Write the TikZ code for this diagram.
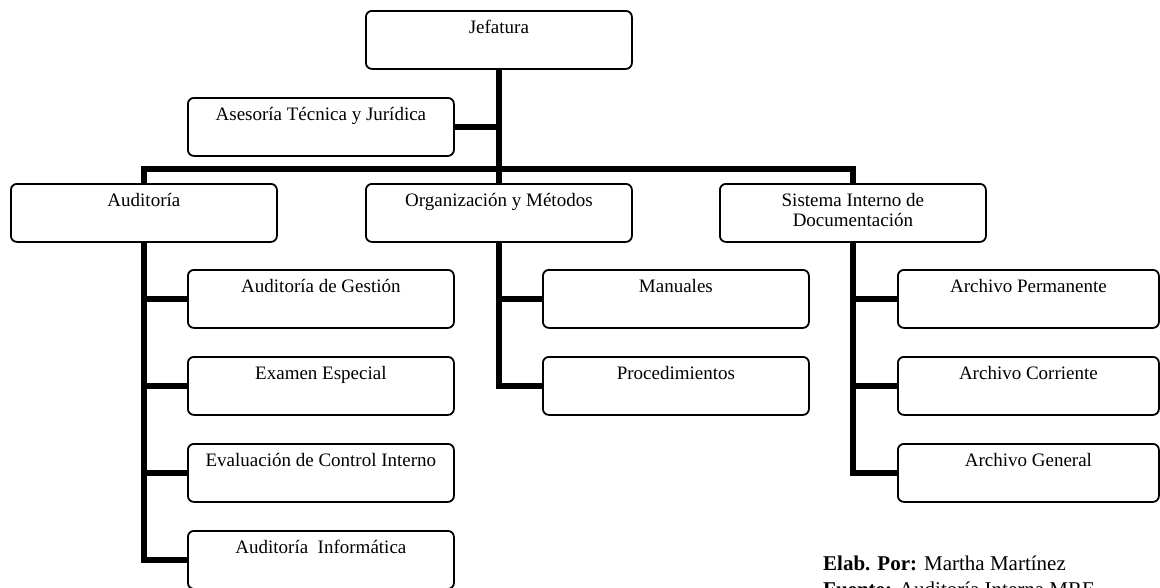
\documentclass[tikz,border=0pt]{standalone}
\usepackage{fontspec}
\setmainfont{Liberation Serif}
\newcommand{\cajatexto}[1]{\parbox[c][58pt][t]{258pt}{\centering\rule{0pt}{23pt}#1\par}}
\begin{document}
\begin{tikzpicture}[x=1pt,y=-1pt,
  orgbox/.style={draw=black, fill=white, line width=1.8pt, rounded corners=6pt,
    inner sep=0pt, minimum width=266pt, minimum height=58pt, anchor=north west,
    font=\fontsize{19}{20}\selectfont},
  archbox/.style={orgbox, minimum width=261pt},
  conn/.style={draw=black, line width=6.5pt},
  nota/.style={anchor=base west, inner sep=0pt, font=\fontsize{21}{26}\selectfont}]
\clip (0,0) rectangle (1160,587);
\fill[white] (0,0) rectangle (1160,587);

% boxes
\node[orgbox] (jef)  at (365,10)  {\cajatexto{Jefatura}};
\node[orgbox] (ase)  at (187,97)  {\cajatexto{Asesoría Técnica y Jurídica}};
\node[orgbox] (aud)  at (10,183)  {\cajatexto{Auditoría}};
\node[orgbox] (org)  at (365,183) {\cajatexto{Organización y Métodos}};
\node[orgbox] (sis)  at (719,183) {\cajatexto{Sistema Interno de\\Documentación}};

\node[orgbox] (ag)   at (187,269) {\cajatexto{Auditoría de Gestión}};
\node[orgbox] (ee)   at (187,356) {\cajatexto{Examen Especial}};
\node[orgbox] (eci)  at (187,443) {\cajatexto{Evaluación de Control Interno}};
\node[orgbox] (ai)   at (187,530) {\cajatexto{Auditoría\ \ Informática}};

\node[orgbox] (man)  at (542,269) {\cajatexto{Manuales}};
\node[orgbox] (proc) at (542,356) {\cajatexto{Procedimientos}};

\node[archbox] (ap)  at (897,269) {\cajatexto{Archivo Permanente}};
\node[archbox] (ac)  at (897,356) {\cajatexto{Archivo Corriente}};
\node[archbox] (agn) at (897,443) {\cajatexto{Archivo General}};

% connectors
\draw[conn] (jef.south) -- (org.north);
\draw[conn] (ase.east) -- (ase.east -| jef.south);
\draw[conn] (aud.north) -- ++(0,-14) -| (sis.north);

\draw[conn] (aud.south) |- (ai.west);
\draw[conn] (aud.south |- ag.west) -- (ag.west);
\draw[conn] (aud.south |- ee.west) -- (ee.west);
\draw[conn] (aud.south |- eci.west) -- (eci.west);

\draw[conn] (org.south) |- (proc.west);
\draw[conn] (org.south |- man.west) -- (man.west);

\draw[conn] (sis.south) |- (agn.west);
\draw[conn] (sis.south |- ap.west) -- (ap.west);
\draw[conn] (sis.south |- ac.west) -- (ac.west);

% footer
\node[nota] (elab)   at (823,570) {\textbf{Elab. Por:} Martha Martínez};
\node[nota] (fuente) at (823,596) {\textbf{Fuente:} Auditoría Interna MRE};
\end{tikzpicture}
\end{document}
